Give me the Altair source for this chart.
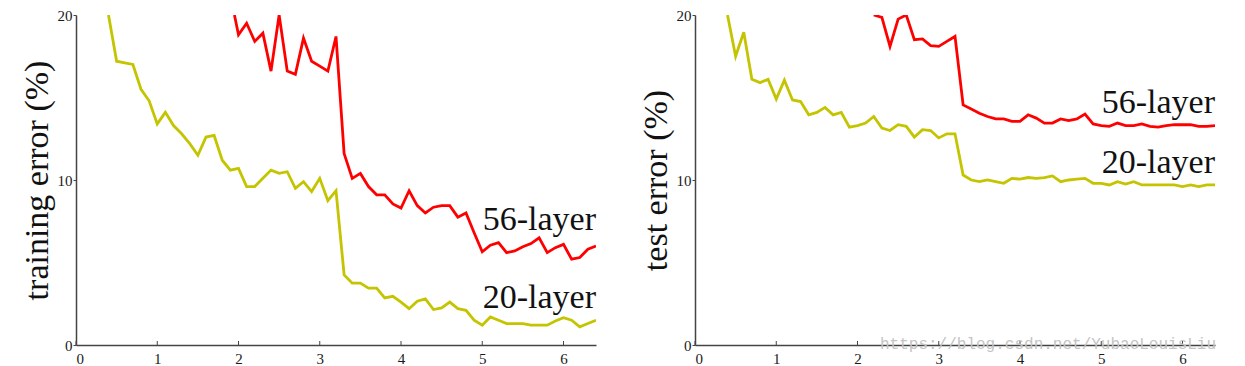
import altair as alt
import pandas as pd

# ---- data ----
epochs_20 = [0.4, 0.5, 0.6, 0.7, 0.8, 0.9,
             1.0, 1.1, 1.2, 1.3, 1.4, 1.5, 1.6, 1.7, 1.8, 1.9,
             2.0, 2.1, 2.2, 2.3, 2.4, 2.5, 2.6, 2.7, 2.8, 2.9,
             3.0, 3.1, 3.2, 3.3, 3.4, 3.5, 3.6, 3.7, 3.8, 3.9,
             4.0, 4.1, 4.2, 4.3, 4.4, 4.5, 4.6, 4.7, 4.8, 4.9,
             5.0, 5.1, 5.2, 5.3, 5.4, 5.5, 5.6, 5.7, 5.8, 5.9,
             6.0, 6.1, 6.2, 6.3, 6.4]

train_20 = [20.0, 17.2, 17.1, 17.0, 15.5, 14.8,
            13.4, 14.1, 13.3, 12.8, 12.2, 11.5, 12.6, 12.7, 11.2, 10.6,
            10.7, 9.6, 9.6, 10.1, 10.6, 10.4, 10.5, 9.5, 9.9, 9.3,
            10.1, 8.75, 9.35, 4.25, 3.75, 3.75, 3.45, 3.45, 2.85, 2.95,
            2.6, 2.2, 2.65, 2.8, 2.15, 2.25, 2.6, 2.2, 2.1, 1.5,
            1.2, 1.7, 1.5, 1.3, 1.3, 1.3, 1.2, 1.2, 1.2, 1.45,
            1.65, 1.5, 1.1, 1.3, 1.5]

epochs_train_56 = [1.95,
                   2.0, 2.1, 2.2, 2.3, 2.4, 2.5, 2.6, 2.7, 2.8, 2.9,
                   3.0, 3.1, 3.2, 3.3, 3.4, 3.5, 3.6, 3.7, 3.8, 3.9,
                   4.0, 4.1, 4.2, 4.3, 4.4, 4.5, 4.6, 4.7, 4.8, 4.9,
                   5.0, 5.1, 5.2, 5.3, 5.4, 5.5, 5.6, 5.7, 5.8, 5.9,
                   6.0, 6.1, 6.2, 6.3, 6.4]
train_56 = [20.0,
            18.8, 19.5, 18.4, 18.9, 16.6, 20.0, 16.6, 16.4, 18.6, 17.2,
            16.9, 16.6, 18.7, 11.6, 10.1, 10.4, 9.6, 9.1, 9.1, 8.55,
            8.3, 9.35, 8.45, 8.0, 8.35, 8.45, 8.45, 7.75, 8.0, 6.8,
            5.65, 6.05, 6.2, 5.6, 5.7, 5.95, 6.15, 6.5, 5.6, 5.9,
            6.1, 5.2, 5.3, 5.8, 6.0]

test_20 = [20.0, 17.5, 18.95, 16.1, 15.9, 16.1,
           14.9, 16.05, 14.85, 14.75, 13.95, 14.1, 14.4, 13.95, 14.1, 13.2,
           13.3, 13.45, 13.85, 13.15, 13.0, 13.35, 13.25, 12.6, 13.05, 13.0,
           12.55, 12.8, 12.8, 10.3, 10.0, 9.9, 10.0, 9.9, 9.8, 10.1,
           10.05, 10.15, 10.1, 10.15, 10.25, 9.9, 10.0, 10.05, 10.1, 9.8,
           9.8, 9.7, 9.9, 9.75, 9.9, 9.7, 9.7, 9.7, 9.7, 9.7,
           9.6, 9.7, 9.6, 9.7, 9.7]

epochs_test_56 = [2.2, 2.3, 2.4, 2.5, 2.6, 2.7, 2.8, 2.9,
                  3.0, 3.1, 3.2, 3.3, 3.4, 3.5, 3.6, 3.7, 3.8, 3.9,
                  4.0, 4.1, 4.2, 4.3, 4.4, 4.5, 4.6, 4.7, 4.8, 4.9,
                  5.0, 5.1, 5.2, 5.3, 5.4, 5.5, 5.6, 5.7, 5.8, 5.9,
                  6.0, 6.1, 6.2, 6.3, 6.4]
test_56 = [20.0, 19.85, 18.1, 19.75, 20.0, 18.5, 18.55, 18.15,
           18.1, 18.4, 18.7, 14.55, 14.3, 14.05, 13.85, 13.7, 13.7, 13.55,
           13.55, 13.95, 13.75, 13.45, 13.45, 13.7, 13.6, 13.7, 14.0, 13.4,
           13.3, 13.25, 13.45, 13.3, 13.3, 13.4, 13.25, 13.2, 13.3, 13.35,
           13.35, 13.35, 13.25, 13.25, 13.3]

series_names = ["56-layer", "20-layer"]
series_colors = ["#ff0000", "#c4c400"]
x_ticks = [0, 1, 2, 3, 4, 5, 6]
y_ticks = [0, 10, 20]
label_x = 6.4
train_label_y = [7.0, 2.25]
test_label_y = [14.05, 10.4]

W, H = 520, 330
SERIF = "Liberation Serif"


def panel(ytitle, ep56, v56, ep20, v20, label_y, watermark=False):
    df = pd.concat([
        pd.DataFrame({"epoch": ep56, "err": v56, "series": "56-layer"}),
        pd.DataFrame({"epoch": ep20, "err": v20, "series": "20-layer"}),
    ])
    xs = alt.Scale(domain=[0, 6.4], nice=False, zero=False)
    ys = alt.Scale(domain=[0, 20], nice=False)
    color = alt.Color("series:N", scale=alt.Scale(domain=series_names, range=series_colors), legend=None)

    lines = alt.Chart(df).mark_line(strokeWidth=2.8, clip=True).encode(
        x=alt.X("epoch:Q", scale=xs,
                axis=alt.Axis(values=x_ticks, ticks=False, labelPadding=6, title=None, format="d")),
        y=alt.Y("err:Q", scale=ys,
                axis=alt.Axis(values=y_ticks, tickSize=3, labelPadding=1, title=ytitle, titlePadding=3)),
        color=color,
        detail="series:N",
    )

    ticks_df = pd.DataFrame({"t": x_ticks})
    xticks = alt.Chart(ticks_df).mark_rule(color="#444444", strokeWidth=1).encode(
        x=alt.X("t:Q", scale=xs),
        y=alt.datum(0),
        y2=alt.value(H - 4),
    )

    lab_df = pd.DataFrame({"name": series_names, "lx": [label_x, label_x], "ly": label_y})
    labels = alt.Chart(lab_df).mark_text(
        align="right", baseline="alphabetic", font=SERIF, fontSize=34, color="#111111"
    ).encode(
        x=alt.X("lx:Q", scale=xs),
        y=alt.Y("ly:Q", scale=ys),
        text="name:N",
    )

    layers = [lines, xticks, labels]
    if watermark:
        wm = alt.Chart(pd.DataFrame({"w": ["https://blog.csdn.net/YubaoLouisLiu"]})).mark_text(
            align="left", baseline="alphabetic", font="Liberation Mono", fontSize=16, color="#c4c4c4"
        ).encode(x=alt.value(185), y=alt.value(H + 4), text="w:N")
        layers.append(wm)
    return alt.layer(*layers).properties(width=W, height=H)


left = panel("training error (%)", epochs_train_56, train_56, epochs_20, train_20, train_label_y)
right = panel("test error (%)", epochs_test_56, test_56, epochs_20, test_20, test_label_y, watermark=True)

chart = alt.hconcat(left, right, spacing=43).properties(
    padding={"left": 12, "top": 0, "right": 0, "bottom": 0},
    background="white",
).configure_view(stroke=None).configure_axis(
    grid=False,
    domainColor="#444444",
    domainWidth=1.5,
    tickColor="#444444",
    labelFont=SERIF,
    labelFontSize=15,
    labelColor="#1a1a1a",
    titleFont=SERIF,
    titleFontSize=34,
    titleFontWeight="normal",
    titleColor="#111111",
)

chart.save("out.html", embed_options={"renderer": "svg", "actions": False})
